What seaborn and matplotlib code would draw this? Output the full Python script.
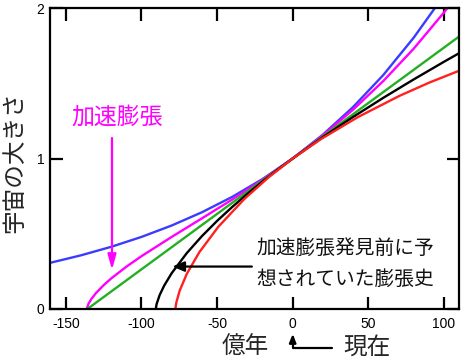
import matplotlib
matplotlib.use("Agg")
import matplotlib.pyplot as plt
import seaborn as sns

# ---- data (time in 億年, relative size of universe) ----
blue_t = [-160, -140, -120, -100, -80, -60, -40, -20, 0, 20, 40, 60, 80, 95]
blue_a = [0.3078, 0.3567, 0.4133, 0.4789, 0.5548, 0.6429, 0.7449, 0.8631, 1.0,
          1.1587, 1.3425, 1.5555, 1.8023, 2.0128]

magenta_t = [-136.2, -135, -133, -130, -125, -120, -110, -100, -80, -60, -40, -20,
             0, 20, 40, 60, 80, 100, 105]
magenta_a = [0.0, 0.0357, 0.0687, 0.1069, 0.1587, 0.2032, 0.2811, 0.3509, 0.4792,
             0.6024, 0.7273, 0.8585, 1.0, 1.1541, 1.3249, 1.5154, 1.7292, 1.9695, 2.0343]

green_t = [-135.8, -100, -50, 0, 50, 110]
green_a = [0.0, 0.2636, 0.6318, 1.0, 1.3682, 1.8100]

black_t = [-90.53, -90, -88, -85, -80, -70, -60, -50, -40, -30, -20, -10, 0,
           20, 40, 60, 80, 100, 110]
black_a = [0.0, 0.0325, 0.0921, 0.1551, 0.2383, 0.3719, 0.4845, 0.5853, 0.6779,
           0.7647, 0.8467, 0.9249, 1.0, 1.1423, 1.2763, 1.4036, 1.5252, 1.6423, 1.6993]

red_t = [-77.52, -77.44, -76.91, -74.72, -69.94, -61.67, -49.16, -31.83, -15.41, 0,
         18.68, 43.2, 70.60, 90.44, 111.45]
red_a = [0.0, 0.0112, 0.0447, 0.1224, 0.2352, 0.3784, 0.5464, 0.7325, 0.8795, 1.0,
         1.1288, 1.2756, 1.4161, 1.5048, 1.5885]

x_ticks = [-150, -100, -50, 0, 50, 100]
y_ticks = [0, 1, 2]

series = [
    (blue_t, blue_a, "#3b3bff"),
    (magenta_t, magenta_a, "#ff00ff"),
    (green_t, green_a, "#22b022"),
    (black_t, black_a, "#000000"),
    (red_t, red_a, "#ff2020"),
]

sns.set_style("ticks")
plt.rcParams["font.family"] = ["Liberation Sans", "Noto Sans CJK JP"]

fig = plt.figure(figsize=(4.75, 3.64), dpi=100)
ax = fig.add_axes([50 / 475, 1 - 309 / 364, 409 / 475, 301 / 364])

for t, a, c in series:
    sns.lineplot(x=t, y=a, color=c, lw=1.7, ax=ax, sort=False, estimator=None)

ax.set_xlim(-160.5, 110)
ax.set_ylim(0, 2)
ax.set_xticks(x_ticks)
ax.set_yticks(y_ticks)
ax.set_xticklabels([str(v) for v in x_ticks])
ax.set_yticklabels([str(v) for v in y_ticks])
ax.tick_params(direction="in", length=9, width=1.6, top=True, right=True,
               labelsize=10, colors="black")
ax.tick_params(axis="x", pad=6)
ax.tick_params(axis="y", pad=4)
for s in ax.spines.values():
    s.set_linewidth(1.6)
    s.set_color("black")
ax.set_xlabel("")
ax.set_ylabel("")

cjk = ["Noto Sans CJK JP", "DejaVu Sans"]

# magenta annotation
ax.text(-146.5, 1.276, "加速膨張", color="#ff00ff", fontsize=16.5, family=cjk,
        ha="left", va="center")
ax.annotate("", xy=(-119.5, 0.26), xytext=(-119.5, 1.136),
            arrowprops=dict(arrowstyle="-|>,head_length=0.9,head_width=0.25",
                            color="#ff00ff", lw=1.6, shrinkA=0, shrinkB=0))

# black annotation
ax.text(-24, 0.402, "加速膨張発見前に予", color="#111111", fontsize=14.2,
        family=cjk, ha="left", va="center")
ax.text(-24, 0.199, "想されていた膨張史", color="#111111", fontsize=14.2,
        family=cjk, ha="left", va="center")
ax.annotate("", xy=(-79.5, 0.282), xytext=(-27, 0.282),
            arrowprops=dict(arrowstyle="-|>,head_length=0.7,head_width=0.3",
                            color="black", lw=1.6, shrinkA=0, shrinkB=0))

# axis labels
fig.text(15 / 475, 1 - 162 / 364, "宇宙の大きさ", rotation=90, fontsize=17,
         family=cjk, ha="center", va="center")
ax.text(-31.5, -0.256, "億年", fontsize=17, family=cjk, ha="center", va="center",
        clip_on=False)
ax.text(48.8, -0.256, "現在", fontsize=17, family=cjk, ha="center", va="center",
        clip_on=False)
ax.annotate("", xy=(0, -0.165), xytext=(26, -0.262), annotation_clip=False,
            arrowprops=dict(arrowstyle="-|>,head_length=0.5,head_width=0.2",
                            connectionstyle="angle,angleA=0,angleB=90,rad=0",
                            color="black", lw=1.6, shrinkA=0, shrinkB=0))

fig.savefig("out.png", dpi=100)
